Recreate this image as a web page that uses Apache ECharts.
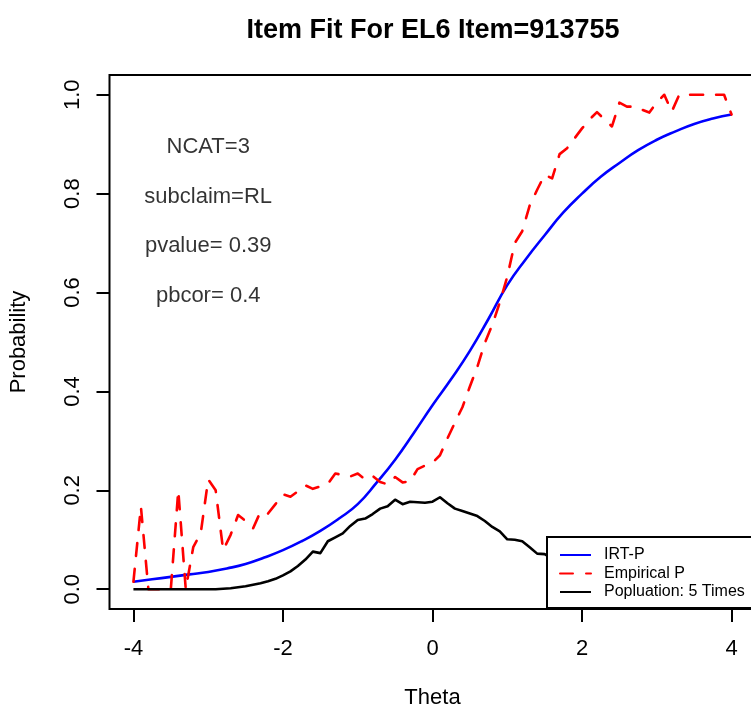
<!DOCTYPE html>
<html>
<head>
<meta charset="utf-8">
<script src="https://cdn.jsdelivr.net/npm/echarts@6/dist/echarts.min.js"></script>
<style>
html,body{margin:0;padding:0;background:#fff;}
#chart{width:751px;height:710px;}
</style>
</head>
<body>
<div id="chart"></div>
<script>
// ---- data ----
var titleText = 'Item Fit For EL6 Item=913755';
var xTicks = [-4, -2, 0, 2, 4];
var yTicks = [0, 0.2, 0.4, 0.6, 0.8, 1.0];

var thetaIRT = [-4, -3.75, -3.5, -3.25, -3, -2.75, -2.5, -2.25, -2, -1.75, -1.5, -1.25, -1, -0.75, -0.5, -0.25,
  0, 0.25, 0.5, 0.75, 1, 1.25, 1.5, 1.75, 2, 2.25, 2.5, 2.75, 3, 3.25, 3.5, 3.75, 4];
var irtP = [0.015, 0.020, 0.025, 0.030, 0.035, 0.042, 0.051, 0.064, 0.079, 0.097, 0.118, 0.143, 0.172, 0.215, 0.262, 0.316,
  0.372, 0.425, 0.482, 0.547, 0.615, 0.668, 0.716, 0.762, 0.800, 0.834, 0.862, 0.888, 0.909, 0.926, 0.941, 0.952, 0.960];

var theta = [-4.0, -3.9, -3.8, -3.7, -3.6, -3.5, -3.4, -3.3, -3.2, -3.1,
  -3.0, -2.9, -2.8, -2.7, -2.6, -2.5, -2.4, -2.3, -2.2, -2.1,
  -2.0, -1.9, -1.8, -1.7, -1.6, -1.5, -1.4, -1.3, -1.2, -1.1,
  -1.0, -0.9, -0.8, -0.7, -0.6, -0.5, -0.4, -0.3, -0.2, -0.1,
  0.0, 0.1, 0.2, 0.3, 0.4, 0.5, 0.6, 0.7, 0.8, 0.9,
  1.0, 1.1, 1.2, 1.3, 1.4, 1.5, 1.6, 1.7, 1.8, 1.9,
  2.0, 2.1, 2.2, 2.3, 2.4, 2.5, 2.6, 2.7, 2.8, 2.9,
  3.0, 3.1, 3.2, 3.3, 3.4, 3.5, 3.6, 3.7, 3.8, 3.9, 4.0];
var empiricalP = [0.015, 0.167, 0.0, 0.0, 0.0, 0.0, 0.2, 0.0, 0.085, 0.113,
  0.222, 0.2, 0.079, 0.11, 0.15, 0.138, 0.123, 0.157, 0.153, 0.172,
  0.192, 0.187, 0.198, 0.21, 0.203, 0.208, 0.213, 0.234, 0.231, 0.228,
  0.234, 0.222, 0.229, 0.217, 0.212, 0.227, 0.216, 0.218, 0.243, 0.25,
  0.256, 0.271, 0.305, 0.337, 0.368, 0.41, 0.45, 0.498, 0.535, 0.58,
  0.632, 0.70, 0.724, 0.776, 0.808, 0.838, 0.831, 0.88, 0.892, 0.912,
  0.932, 0.95, 0.965, 0.95, 0.936, 0.984, 0.976, 0.976, 0.97, 0.964,
  0.985, 1.0, 0.966, 1.0, 1.0, 1.0, 1.0, 1.0, 1.0, 1.0, 0.96];
var population = [0, 0, 0, 0, 0, 0, 0, 0, 0, 0,
  0, 0, 0.001, 0.002, 0.004, 0.006, 0.009, 0.012, 0.016, 0.021,
  0.028, 0.036, 0.047, 0.06, 0.076, 0.073, 0.097, 0.105, 0.113, 0.128,
  0.14, 0.143, 0.152, 0.163, 0.168, 0.181, 0.172, 0.177, 0.176, 0.175,
  0.177, 0.186, 0.174, 0.163, 0.158, 0.153, 0.148, 0.138, 0.126, 0.117,
  0.101, 0.1, 0.097, 0.085, 0.072, 0.071, 0.062, 0.055, 0.047, 0.04,
  0.033, 0.027, 0.022, 0.018, 0.014, 0.011, 0.008, 0.006, 0.004, 0.003,
  0.002, 0.001, 0.001, 0.001, 0, 0, 0, 0, 0, 0, 0];

var annoX = [-3, -3, -3, -3];
var annoY = [0.9, 0.8, 0.7, 0.6];
var annoText = ['NCAT=3', 'subclaim=RL', 'pvalue= 0.39', 'pbcor= 0.4'];

var seriesNames = ['IRT-P', 'Empirical P', 'Popluation: 5 Times'];

function zip(xs, ys) { return xs.map(function (x, i) { return [x, ys[i]]; }); }

var FONT = '"Liberation Sans", Arial, sans-serif';

var chart = echarts.init(document.getElementById('chart'), null, {renderer: 'canvas'});
chart.setOption({
  animation: false,
  backgroundColor: '#ffffff',
  title: {
    text: titleText,
    left: 428,
    top: 12,
    textAlign: 'center',
    textStyle: {fontFamily: FONT, fontWeight: 'bold', fontSize: 27, color: '#000'}
  },
  grid: {
    left: 109.5, top: 75, width: 646, height: 534,
    outerBoundsMode: 'none', containLabel: false,
    show: true, borderColor: '#000', borderWidth: 2, backgroundColor: 'transparent'
  },
  legend: {
    data: seriesNames,
    orient: 'vertical',
    left: 547, top: 537,
    z: 10,
    backgroundColor: '#fff',
    borderColor: '#000', borderWidth: 2, borderRadius: 0,
    padding: [10, 40, 8, 12],
    itemWidth: 31, itemHeight: 14, itemGap: 2.5,
    itemStyle: {opacity: 0},
    textStyle: {fontFamily: FONT, fontSize: 16, lineHeight: 16, color: '#000', padding: [0, 0, 0, 8]},
    selectedMode: false
  },
  xAxis: {
    type: 'value', min: -4.32, max: 4.32,
    name: 'Theta', nameLocation: 'middle', nameGap: 78,
    nameTextStyle: {fontFamily: FONT, fontSize: 22, color: '#000'},
    axisLine: {show: false, onZero: false},
    splitLine: {show: false},
    axisTick: {show: true, length: 13, inside: false, customValues: xTicks, lineStyle: {color: '#000', width: 2}},
    axisLabel: {customValues: xTicks, margin: 29, fontFamily: FONT, fontSize: 22, color: '#000',
      formatter: function (v) { return String(v); }}
  },
  yAxis: {
    type: 'value', min: -0.04, max: 1.04,
    name: 'Probability', nameLocation: 'middle', nameGap: 80, nameRotate: 90,
    nameTextStyle: {fontFamily: FONT, fontSize: 22, color: '#000'},
    axisLine: {show: false, onZero: false},
    splitLine: {show: false},
    axisTick: {show: true, length: 13, customValues: yTicks, lineStyle: {color: '#000', width: 2}},
    axisLabel: {customValues: yTicks, rotate: 90, margin: 26, fontFamily: FONT, fontSize: 22, color: '#000',
      formatter: function (v) { return v.toFixed(1); }}
  },
  series: [
    {
      name: seriesNames[0], type: 'line', data: zip(thetaIRT, irtP), smooth: true,
      showSymbol: false, symbol: 'none', clip: true,
      lineStyle: {color: '#0000ff', width: 2.6}, itemStyle: {color: '#0000ff'}, z: 2
    },
    {
      name: seriesNames[1], type: 'line', data: zip(theta, empiricalP),
      showSymbol: false, symbol: 'none', clip: true,
      lineStyle: {color: '#ff0000', width: 2.6, type: [13, 13], cap: 'round', join: 'round'},
      itemStyle: {color: '#ff0000'}, z: 2
    },
    {
      name: seriesNames[2], type: 'line', data: zip(theta, population),
      showSymbol: false, symbol: 'none', clip: true,
      lineStyle: {color: '#000000', width: 2.6, join: 'round'}, itemStyle: {color: '#000'}, z: 2
    },
    {
      name: 'annotations', type: 'scatter', symbolSize: 0, silent: true,
      data: annoX.map(function (x, i) { return {value: [x, annoY[i]], name: annoText[i]}; }),
      label: {show: true, position: 'inside', offset: [0, 3], formatter: function (p) { return p.name; },
        fontFamily: FONT, fontSize: 22, color: '#000'},
      z: 3
    }
  ]
});
</script>
</body>
</html>
